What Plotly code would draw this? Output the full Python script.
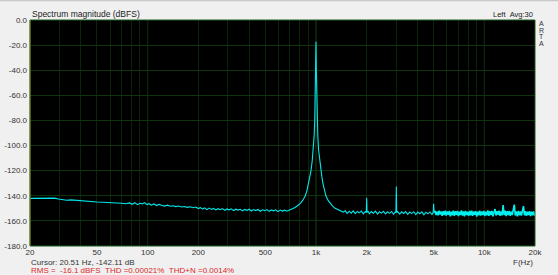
import plotly.graph_objects as go

# ---- data ----
freq_low = [20, 21, 22.5, 24, 26, 28, 29.5, 31, 33, 35, 36.5, 38, 40, 43, 46, 50, 54, 58, 62, 66,
            70, 74, 78, 81, 84, 87, 90, 93, 96, 99, 102, 105, 109, 113, 117, 121, 126, 131, 136, 141,
            147, 153, 159, 165, 172, 179, 186, 193, 200, 206, 212, 218, 225, 232, 239, 246, 254, 262,
            270, 278, 287, 296, 305, 314, 324, 334, 344, 355, 366, 377, 389, 401, 413, 426, 439, 453,
            467, 481, 496, 511, 527, 543, 560, 577, 595, 613, 632, 651, 671]
db_low = [-142.1, -142.0, -141.8, -141.6, -141.5, -141.9, -142.6, -143.2, -143.6, -143.3, -143.5, -144.1,
          -144.3, -144.5, -144.6, -144.9, -145.1, -145.2, -145.5, -145.6, -145.9, -146.4, -145.7, -146.8,
          -145.5, -147.1, -146.0, -146.4, -145.4, -147.0, -146.3, -147.5, -146.5, -147.8, -146.9, -147.6,
          -148.2, -147.5, -148.3, -147.9, -148.6, -148.2, -148.9, -148.5, -149.2, -148.7, -149.5, -149.0,
          -150.2, -149.4, -150.6, -149.6, -151.0, -149.8, -150.9, -150.1, -151.3, -150.3, -151.1, -150.2,
          -151.6, -150.5, -151.2, -150.4, -151.8, -150.7, -151.4, -150.8, -152.0, -150.9, -151.6, -150.7,
          -152.1, -151.0, -151.8, -150.9, -152.3, -151.2, -151.9, -151.0, -152.4, -151.3, -152.0, -151.2,
          -152.6, -151.4, -152.2, -151.5, -152.3]

freq_peak = [690, 710, 736, 770, 807, 835, 864, 885, 904, 920, 934, 950, 964, 975, 983, 990, 995, 1000,
             1005, 1010, 1017, 1025, 1036, 1052, 1069, 1084, 1099, 1120, 1145, 1178, 1214, 1255, 1300,
             1360, 1410]
db_peak = [-151.6, -151.0, -150.0, -148.3, -146.0, -143.5, -140.0, -135.5, -130.0, -125.0, -120.0, -112.0,
           -103.5, -92.0, -80.0, -62.0, -40.0, -17.3, -40.0, -62.0, -80.0, -92.0, -103.5, -112.0, -120.0,
           -125.0, -130.0, -135.5, -140.0, -143.5, -146.0, -148.3, -150.0, -151.5, -152.4]

freq_mid = [1450, 1490, 1532, 1575, 1619, 1664, 1711, 1759, 1808, 1859, 1911, 1964, 1990, 2000, 2010,
            2040, 2076, 2134, 2193, 2255, 2318, 2383, 2450, 2518, 2589, 2661, 2736, 2812, 2891, 2960,
            2985, 3000, 3015, 3055, 3141, 3229, 3319, 3412, 3508, 3606, 3707, 3811, 3917, 4027, 4140,
            4256, 4375, 4497, 4623, 4753, 4886, 4970, 5000, 5030]
db_mid = [-153.0, -152.0, -154.0, -152.3, -153.8, -152.1, -154.2, -152.5, -153.6, -152.2, -154.4, -152.6,
          -153.5, -141.5, -153.2, -152.4, -154.3, -152.5, -153.9, -152.3, -154.6, -152.7, -153.8, -152.4,
          -154.5, -152.8, -154.0, -152.5, -154.7, -152.9, -153.5, -132.7, -153.4, -152.6, -154.6, -152.8,
          -154.1, -152.6, -154.8, -152.9, -154.2, -152.7, -155.0, -153.0, -154.3, -152.8, -155.2, -153.1,
          -154.4, -152.9, -154.9, -153.2, -146.3, -153.4]

freq_high = [5093, 5165, 5237, 5310, 5385, 5460, 5537, 5614, 5693, 5773, 5853, 5935, 6018, 6103, 6188,
             6275, 6363, 6452, 6542, 6634, 6727, 6821, 6916, 7013, 7111, 7211, 7312, 7414, 7518, 7623,
             7730, 7838, 7948, 8059, 8172, 8286, 8402, 8520, 8639, 8760, 8883, 9007, 9133, 9261, 9391,
             9522, 9656, 9791, 9928, 10067, 10208, 10351, 10496, 10643, 10792, 10943, 11096, 11251,
             11409, 11569, 11731, 11895, 12061, 12230, 12401, 12575, 12751, 12930, 13111, 13294, 13480,
             13669, 13860, 14054, 14251, 14451, 14653, 14858, 15066, 15277, 15491, 15708, 15928, 16151,
             16377, 16606, 16838, 17074, 17313, 17555, 17801, 18050, 18303, 18559, 18819, 19083, 19350,
             19621, 19896, 20000]
db_high = [-152.0, -155.3, -152.4, -155.6, -151.9, -155.0, -152.6, -156.0, -152.2, -155.4, -151.8, -155.8,
           -152.5, -155.2, -152.1, -156.3, -152.7, -155.5, -151.9, -155.9, -152.3, -155.1, -152.0, -156.1,
           -152.6, -155.4, -151.7, -155.7, -152.4, -156.4, -152.1, -155.3, -152.8, -155.9, -152.0, -155.5,
           -151.8, -156.0, -152.5, -155.2, -152.2, -156.5, -152.7, -155.6, -151.9, -155.8, -152.4, -155.3,
           -152.1, -156.2, -152.6, -155.5, -151.6, -155.9, -152.3, -155.4, -152.0, -156.3, -152.5, -150.6,
           -155.7, -152.2, -155.2, -151.9, -156.0, -152.4, -155.6, -147.4, -155.3, -151.8, -156.1, -152.3,
           -155.4, -152.0, -155.9, -152.6, -155.3, -152.1, -147.0, -155.7, -152.4, -156.4, -152.0, -155.5,
           -152.5, -155.8, -151.9, -148.2, -155.6, -152.3, -156.0, -152.6, -155.4, -152.2, -156.2, -152.7,
           -155.5, -152.4, -156.0, -153.5]

x_tick_vals = [20, 50, 100, 200, 500, 1000, 2000, 5000, 10000, 20000]
x_tick_text = ["20", "50", "100", "200", "500", "1k", "2k", "5k", "10k", "20k"]
x_minor_vals = [30, 40, 60, 70, 80, 90, 300, 400, 600, 700, 800, 900,
                3000, 4000, 6000, 7000, 8000, 9000]
x_decades = [100, 1000, 10000]
y_tick_vals = [0, -20, -40, -60, -80, -100, -120, -140, -160, -180]

freqs_a = freq_low + freq_peak + freq_mid
dbs_a = db_low + db_peak + db_mid

FONT = "Liberation Sans"
LINE = "rgb(0,232,232)"
fig = go.Figure()
fig.add_trace(go.Scatter(x=freqs_a, y=dbs_a, mode="lines",
                         line=dict(color=LINE, width=1.1), hoverinfo="skip"))
fig.add_trace(go.Scatter(x=[freq_mid[-1]] + freq_high, y=[db_mid[-1]] + db_high, mode="lines",
                         line=dict(color="rgb(0,240,240)", width=1.6), hoverinfo="skip"))

grid_dim = "rgb(9,36,9)"
fig.update_xaxes(type="log", range=[1.30103, 4.30103], automargin=False,
                 tickvals=x_tick_vals, ticktext=x_tick_text,
                 showgrid=True, gridcolor=grid_dim, gridwidth=1,
                 minor=dict(tickvals=x_minor_vals, showgrid=True, gridcolor=grid_dim, gridwidth=1, ticks=""),
                 ticks="", zeroline=False, showline=False,
                 tickfont=dict(family=FONT, size=8, color="#333333"))
fig.update_yaxes(range=[-180, 0], tickvals=y_tick_vals, automargin=False,
                 ticktext=[f"{v:.1f}" for v in y_tick_vals],
                 showgrid=True, gridcolor="rgb(13,52,13)", gridwidth=1,
                 ticks="", zeroline=False, showline=False, ticklabelstandoff=2,
                 tickfont=dict(family=FONT, size=8, color="#333333"))

shapes = []
for d in x_decades:
    shapes.append(dict(type="line", xref="x", yref="paper", x0=d, x1=d, y0=0, y1=1,
                       line=dict(color="rgb(18,66,18)", width=1), layer="between"))
shapes.append(dict(type="rect", xref="paper", yref="paper", x0=0, x1=1, y0=0, y1=1,
                   line=dict(color="rgb(30,92,30)", width=1), layer="above"))
shapes.append(dict(type="line", xref="paper", yref="paper", x0=0, x1=0, y0=0, y1=1,
                   line=dict(color="rgb(140,140,30)", width=1), layer="above"))
# thin window border at top of page
shapes.append(dict(type="line", xref="paper", yref="paper", x0=-0.1, x1=1.1,
                   y0=1 + 19.5 / 226, y1=1 + 19.5 / 226,
                   line=dict(color="rgb(200,200,200)", width=1.5), layer="above"))

annotations = [
    dict(text="Spectrum magnitude (dBFS)", xref="paper", yref="paper", x=0, y=1,
         xanchor="left", yanchor="bottom", yshift=-1, showarrow=False,
         font=dict(family=FONT, size=8.5, color="#222222")),
    dict(text="Left\u00a0\u00a0Avg:30", xref="paper", yref="paper", x=1, y=1,
         xanchor="right", yanchor="bottom", yshift=-1, showarrow=False,
         font=dict(family=FONT, size=7.5, color="#222222")),
    dict(text="Cursor: 20.51 Hz, -142.11 dB", xref="paper", yref="paper", x=0, y=0,
         xanchor="left", yanchor="middle", yshift=-16, xshift=-1, showarrow=False,
         font=dict(family=FONT, size=8, color="#333333")),
    dict(text="RMS =\u00a0\u00a0-16.1 dBFS\u00a0\u00a0THD =0.00021%\u00a0\u00a0THD+N =0.0014%",
         xref="paper", yref="paper", x=0, y=0,
         xanchor="left", yanchor="middle", yshift=-24.5, xshift=-1, showarrow=False,
         font=dict(family=FONT, size=8, color="rgb(220,40,40)")),
    dict(text="F(Hz)", xref="paper", yref="paper", x=1, y=0,
         xanchor="right", yanchor="middle", yshift=-16, showarrow=False,
         font=dict(family=FONT, size=8, color="#333333")),
]
for i, ch in enumerate("ARTA"):
    annotations.append(dict(text=ch, xref="paper", yref="paper", x=1, y=1,
                            xanchor="left", yanchor="middle", xshift=2, yshift=-3.5 - 6.7 * i,
                            showarrow=False, font=dict(family=FONT, size=7, color="#333333")))

fig.update_layout(width=558, height=275, margin=dict(l=30, r=23, t=20, b=29),
                  paper_bgcolor="#f0f0f0", plot_bgcolor="black",
                  showlegend=False, shapes=shapes, annotations=annotations)

fig.write_html("out.html", config={"displayModeBar": False})
